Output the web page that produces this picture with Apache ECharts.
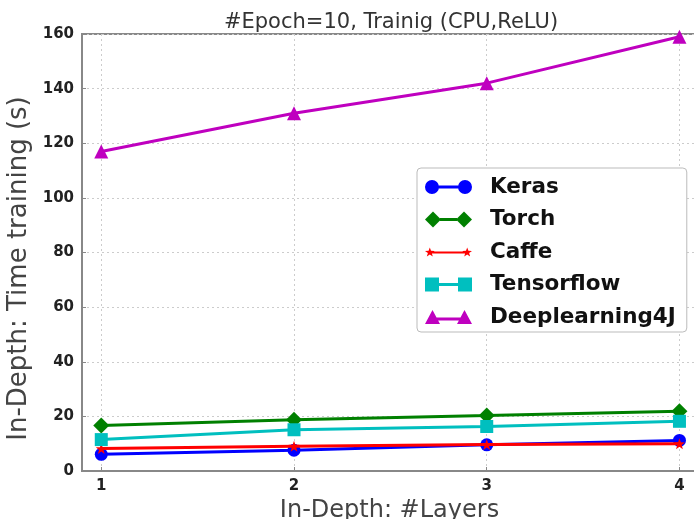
<!DOCTYPE html>
<html><head><meta charset="utf-8">
<script src="https://cdn.jsdelivr.net/npm/echarts@6/dist/echarts.min.js"></script>
<style>html,body{margin:0;padding:0;background:#fff}#c{width:694px;height:519px}</style>
</head><body><div id="c"></div>
<script>
const layers = [1, 2, 3, 4];
const xTicks = [1, 2, 3, 4];
const keras = [6.1, 7.6, 9.6, 11.2];
const torch = [16.7, 18.8, 20.3, 21.9];
const caffe = [8.2, 9.1, 9.7, 10.0];
const tensorflow = [11.5, 15.1, 16.3, 18.2];
const dl4j = [117, 131, 142, 159];

const names = ['Keras', 'Torch', 'Caffe', 'Tensorflow', 'Deeplearning4J'];
const values = [keras, torch, caffe, tensorflow, dl4j];
const colors = ['#0000ff', '#008000', '#ff0000', '#00bfbf', '#bf00bf'];

function starPath(cx, cy, ro, ri) {
  let d = '';
  for (let k = 0; k < 10; k++) {
    const r = k % 2 ? ri : ro;
    const a = (-90 + k * 36) * Math.PI / 180;
    d += (k ? 'L' : 'M') + (cx + r * Math.cos(a)).toFixed(2) + ',' + (cy + r * Math.sin(a)).toFixed(2) + ' ';
  }
  return d + 'Z ';
}
const starSym = 'path://' + starPath(50, 50, 50, 20);
const symbols = ['circle', 'diamond', starSym, 'rect', 'triangle'];
const sizes = [13, 16, 11, 13, 14];

// legend icons in a 47x16 box: marker, line, marker
const legendIcons = [
  'path://M0,8 A7,7 0 1,1 14,8 A7,7 0 1,1 0,8 Z M33,8 A7,7 0 1,1 47,8 A7,7 0 1,1 33,8 Z M13,6.5 L34,6.5 L34,9.5 L13,9.5 Z',
  'path://M0,8 L8,0 L16,8 L8,16 Z M31,8 L39,0 L47,8 L39,16 Z M15,6.5 L32,6.5 L32,9.5 L15,9.5 Z',
  'path://' + starPath(5, 8.5, 5, 2) + starPath(42, 8.5, 5, 2) + 'M4,7.5 L43,7.5 L43,9.5 L4,9.5 Z',
  'path://M0,1 L14,1 L14,15 L0,15 Z M33,1 L47,1 L47,15 L33,15 Z M13,6.5 L34,6.5 L34,9.5 L13,9.5 Z',
  'path://M0,15 L7.5,1 L15,15 Z M32,15 L39.5,1 L47,15 Z M7,8.5 L40,8.5 L40,11.5 L7,11.5 Z'
];

const FONT = 'DejaVu Sans';
const chart = echarts.init(document.getElementById('c'), null, {renderer: 'canvas'});
chart.setOption({
  animation: false,
  title: {
    text: '#Epoch=10, Trainig (CPU,ReLU)',
    left: 386, top: 7, textAlign: 'center',
    textStyle: {fontFamily: FONT, fontSize: 21, fontWeight: 'normal', color: '#333'}
  },
  grid: {left: 82, right: -3, top: 34, bottom: 48, outerBoundsMode: 'none',
         show: true, borderColor: '#888', borderWidth: 2},
  legend: {
    orient: 'vertical', left: 417, top: 168,
    data: names.map((n, i) => ({name: n, icon: legendIcons[i]})),
    itemWidth: 47, itemHeight: 16, itemGap: 10.5,
    padding: [8, 11, 4, 8],
    borderColor: '#bbb', borderWidth: 1, borderRadius: 4,
    backgroundColor: '#fff',
    textStyle: {fontFamily: FONT, fontSize: 21.5, fontWeight: 'bold', color: '#111', padding: [0, 0, 0, 13], lineHeight: 20}
  },
  xAxis: {
    type: 'value', min: 0.9, max: 4.091,
    name: 'In-Depth: #Layers', nameLocation: 'middle', nameGap: 16,
    nameTextStyle: {fontFamily: FONT, fontSize: 24, color: '#444'},
    axisLine: {show: true, onZero: false, lineStyle: {color: '#888', width: 2}},
    axisTick: {show: true, inside: true, length: 4, customValues: xTicks, lineStyle: {color: '#888'}},
    axisLabel: {customValues: xTicks, fontFamily: FONT, fontSize: 15, fontWeight: 'bold', color: '#222', margin: 8, formatter: v => String(v)},
    splitLine: {show: true, lineStyle: {color: '#ccc', type: [2, 3], width: 1}}
  },
  yAxis: {
    type: 'value', min: 0, max: 160, interval: 20,
    name: 'In-Depth: Time training (s)', nameLocation: 'middle', nameGap: 46,
    nameTextStyle: {fontFamily: FONT, fontSize: 26, color: '#444', padding: [0, 32, 0, 0]},
    axisLine: {show: true, lineStyle: {color: '#888', width: 2}},
    axisTick: {show: true, inside: true, length: 4, lineStyle: {color: '#888'}},
    axisLabel: {fontFamily: FONT, fontSize: 15, fontWeight: 'bold', color: '#222', margin: 8},
    splitLine: {show: true, lineStyle: {color: '#ccc', type: [2, 3], width: 1}}
  },
  series: names.map((n, i) => ({
    name: n, type: 'line',
    data: layers.map((x, j) => [x, values[i][j]]),
    symbol: symbols[i], symbolSize: sizes[i],
    lineStyle: {color: colors[i], width: 3},
    itemStyle: {color: colors[i]},
    z: 2 + i
  }))
});
</script></body></html>
